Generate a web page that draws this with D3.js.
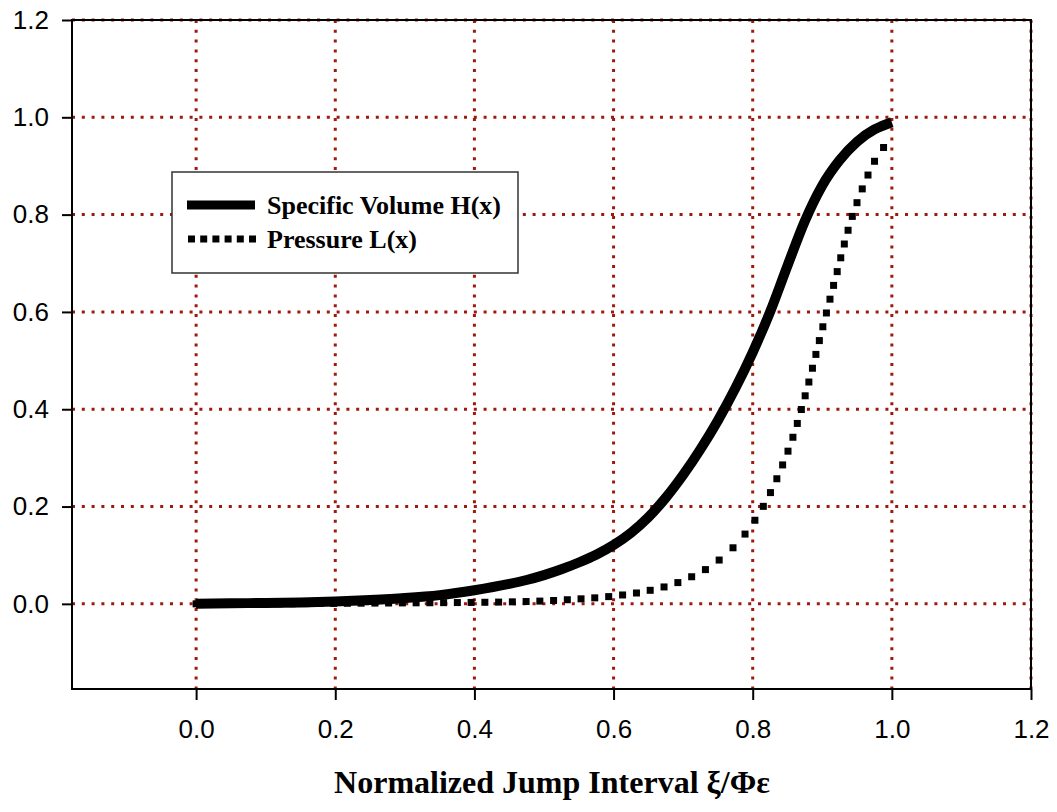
<!DOCTYPE html>
<html>
<head>
<meta charset="utf-8">
<script src="https://cdn.jsdelivr.net/npm/d3@7"></script>
<style>
  html, body { margin: 0; padding: 0; background: #fff; }
  svg { display: block; }
</style>
</head>
<body>
<svg id="chart" width="1057" height="812"></svg>
<script>
// ---- data ----
const xTicks = [0.0, 0.2, 0.4, 0.6, 0.8, 1.0, 1.2];
const yTicks = [0.0, 0.2, 0.4, 0.6, 0.8, 1.0, 1.2];

const hX = [0.00, 0.05, 0.10, 0.15, 0.20, 0.25, 0.30, 0.35, 0.40, 0.45, 0.475, 0.50, 0.525, 0.55, 0.575, 0.60, 0.625, 0.65, 0.675, 0.70, 0.725, 0.75, 0.775, 0.80, 0.825, 0.85, 0.875, 0.90, 0.925, 0.95, 0.975, 1.00];
const hY = [0.000, 0.001, 0.002, 0.003, 0.005, 0.008, 0.012, 0.018, 0.028, 0.041, 0.049, 0.059, 0.071, 0.085, 0.101, 0.121, 0.146, 0.178, 0.218, 0.265, 0.318, 0.377, 0.443, 0.517, 0.600, 0.695, 0.787, 0.860, 0.912, 0.950, 0.975, 0.990];

const lX = [0.00, 0.10, 0.20, 0.30, 0.40, 0.45, 0.50, 0.55, 0.60, 0.65, 0.70, 0.75, 0.78, 0.80, 0.82, 0.84, 0.86, 0.88, 0.90, 0.92, 0.94, 0.96, 0.98, 1.00];
const lY = [0.000, 0.000, 0.001, 0.002, 0.003, 0.004, 0.006, 0.010, 0.016, 0.027, 0.048, 0.088, 0.128, 0.165, 0.213, 0.275, 0.352, 0.452, 0.565, 0.675, 0.782, 0.862, 0.922, 0.955];

const seriesNames = ["Specific Volume H(x)", "Pressure L(x)"];
const xTitle = "Normalized Jump Interval \u03BE/\u03A6\u03B5";

// ---- layout ----
const L = 72, R = 1031, T = 20, B = 689;
const gridColor = "#9e1a0c";

const svg = d3.select("#chart");
const x = d3.scaleLinear().domain([-0.1784, 1.2]).range([L, R]);
const y = d3.scaleLinear().domain([-0.175, 1.2]).range([B, T]);

// grid
const grid = svg.append("g");
grid.selectAll("line.v").data(xTicks).join("line")
  .attr("x1", d => x(d)).attr("x2", d => x(d))
  .attr("y1", T).attr("y2", B)
  .attr("stroke", gridColor).attr("stroke-width", 3)
  .attr("stroke-dasharray", "3,6.8");
grid.selectAll("line.h").data(yTicks).join("line")
  .attr("x1", L).attr("x2", R)
  .attr("y1", d => y(d)).attr("y2", d => y(d))
  .attr("stroke", gridColor).attr("stroke-width", 3)
  .attr("stroke-dasharray", "3,6.8");

// frame
svg.append("rect")
  .attr("x", L).attr("y", T).attr("width", R - L).attr("height", B - T)
  .attr("fill", "none").attr("stroke", "#000").attr("stroke-width", 2);

// axes
const fmt = d3.format(".1f");
const yAxis = svg.append("g").attr("transform", `translate(${L},0)`)
  .call(d3.axisLeft(y).tickValues(yTicks).tickSize(10).tickPadding(13).tickFormat(fmt));
const xAxis = svg.append("g").attr("transform", `translate(0,${B})`)
  .call(d3.axisBottom(x).tickValues(xTicks).tickSize(11).tickPadding(20).tickFormat(fmt));
[xAxis, yAxis].forEach(a => {
  a.select(".domain").remove();
  a.selectAll(".tick line").attr("stroke", "#000").attr("stroke-width", 2);
  a.selectAll(".tick text")
    .attr("font-family", "'Liberation Sans', Arial, sans-serif")
    .attr("font-size", 26).attr("fill", "#000");
});

// lines
const hData = hX.map((d, i) => [d, hY[i]]);
const lData = lX.map((d, i) => [d, lY[i]]);
const line = d3.line().x(d => x(d[0])).y(d => y(d[1])).curve(d3.curveMonotoneX);

// dotted pressure line: axis-aligned square dots placed along the curve
const guide = svg.append("path").datum(lData)
  .attr("d", line).attr("fill", "none").attr("stroke", "none");
const node = guide.node();
const total = node.getTotalLength();
const dots = [];
let last = null;
const spacing = 13.7;
for (let s = 0; s <= total; s += 0.25) {
  const p = node.getPointAtLength(s);
  if (!last || Math.max(Math.abs(p.x - last.x), Math.abs(p.y - last.y)) >= spacing) {
    dots.push({x: p.x, y: p.y});
    last = p;
  }
}
const dsz = 7;
svg.append("g").selectAll("rect").data(dots).join("rect")
  .attr("x", d => d.x - dsz / 2).attr("y", d => d.y - dsz / 2)
  .attr("width", dsz).attr("height", dsz).attr("fill", "#000");

svg.append("path").datum(hData)
  .attr("d", line).attr("fill", "none")
  .attr("stroke", "#000").attr("stroke-width", 10)
  .attr("stroke-linecap", "butt");

// legend
const lg = svg.append("g");
lg.append("rect")
  .attr("x", 172).attr("y", 172).attr("width", 346).attr("height", 101)
  .attr("fill", "#fff").attr("stroke", "#333").attr("stroke-width", 1.5);
lg.append("line").attr("x1", 187).attr("x2", 255).attr("y1", 205).attr("y2", 205)
  .attr("stroke", "#000").attr("stroke-width", 9);
lg.append("line").attr("x1", 188).attr("x2", 256).attr("y1", 239).attr("y2", 239)
  .attr("stroke", "#000").attr("stroke-width", 7).attr("stroke-dasharray", "7,5.2");
lg.selectAll("text").data(seriesNames).join("text")
  .attr("x", 267).attr("y", (d, i) => 214 + i * 34)
  .attr("font-family", "'Liberation Serif', 'Times New Roman', serif")
  .attr("font-weight", "bold").attr("font-size", 26).attr("fill", "#000")
  .text(d => d);

// x title
svg.append("text")
  .attr("x", 552).attr("y", 793).attr("text-anchor", "middle")
  .attr("font-family", "'Liberation Serif', 'Times New Roman', serif")
  .attr("font-weight", "bold").attr("font-size", 32).attr("fill", "#000")
  .text(xTitle);
</script>
</body>
</html>
